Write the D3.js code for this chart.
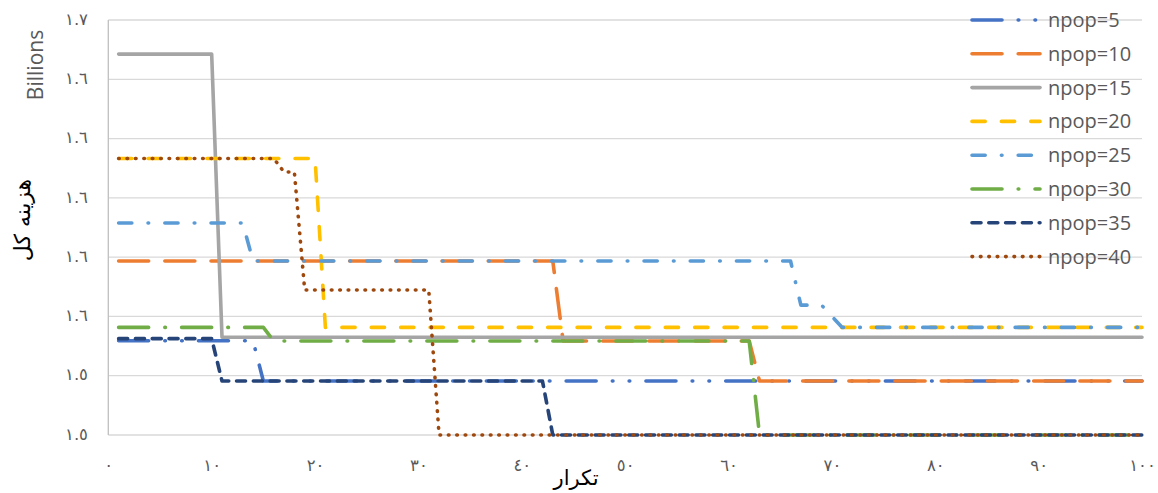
<!DOCTYPE html>
<html>
<head>
<meta charset="utf-8">
<script src="https://cdn.jsdelivr.net/npm/d3@7"></script>
<style>
  html, body { margin: 0; padding: 0; background: #fff; }
  svg { display: block; }
</style>
</head>
<body>
<svg id="chart" width="1158" height="493"></svg>
<script>
// Total cost (billions) per iteration for each population size.
// Each series is listed by the iterations where its value changes.
const seriesNames = ["npop=5", "npop=10", "npop=15", "npop=20", "npop=25", "npop=30", "npop=35", "npop=40"];

const npop5Iter  = [1, 14, 15, 100];
const npop5Cost  = [1.5518, 1.5518, 1.5382, 1.5382];

const npop10Iter = [1, 43, 44, 62, 63, 100];
const npop10Cost = [1.5787, 1.5787, 1.5517, 1.5517, 1.5382, 1.5382];

const npop15Iter = [1, 10, 11, 100];
const npop15Cost = [1.6485, 1.6485, 1.5530, 1.5530];

const npop20Iter = [1, 20, 21, 100];
const npop20Cost = [1.6133, 1.6133, 1.5563, 1.5563];

const npop25Iter = [1, 13, 14, 66, 67, 69, 70, 71, 100];
const npop25Cost = [1.5915, 1.5915, 1.5787, 1.5787, 1.5638, 1.5638, 1.5600, 1.5563, 1.5563];

const npop30Iter = [1, 15, 16, 62, 63, 100];
const npop30Cost = [1.5563, 1.5563, 1.5517, 1.5517, 1.5200, 1.5200];

const npop35Iter = [1, 10, 11, 42, 43, 100];
const npop35Cost = [1.5525, 1.5525, 1.5382, 1.5382, 1.5200, 1.5200];

const npop40Iter = [1, 16, 17, 18, 19, 31, 32, 100];
const npop40Cost = [1.6133, 1.6133, 1.6087, 1.6087, 1.5689, 1.5689, 1.5200, 1.5200];

const seriesIter = [npop5Iter, npop10Iter, npop15Iter, npop20Iter, npop25Iter, npop30Iter, npop35Iter, npop40Iter];
const seriesCost = [npop5Cost, npop10Cost, npop15Cost, npop20Cost, npop25Cost, npop30Cost, npop35Cost, npop40Cost];

const xTicks = [0, 10, 20, 30, 40, 50, 60, 70, 80, 90, 100];
const yTicks = [1.52, 1.54, 1.56, 1.58, 1.60, 1.62, 1.64, 1.66];

const xTitle = "تکرار";
const yTitle = "هزینه کل";
const unitTitle = "Billions";

// Appearance
const colors = ["#4472C4", "#ED7D31", "#A5A5A5", "#FFC000", "#5B9BD5", "#70AD47", "#264478", "#9E480E"];
// Dash patterns in multiples of the dash unit (null = solid)
const dashUnits = [
  [8, 3, 1, 3, 1, 3],  // long dash dot dot
  [8, 3],              // long dash
  null,                // solid
  [4, 3],              // dash
  [4, 3, 1, 3],        // dash dot
  [8, 3, 1, 3],        // long dash dot
  [3, 1],              // square dash
  [1, 1]               // round dot
];
const strokeW = 3.6;
const unit = 4.2;

function dashArray(p) {
  if (!p) return null;
  return p.map((v, i) => i % 2 === 0 ? Math.max(0.01, v * unit - strokeW) : v * unit + strokeW).join(",");
}

const arabicDigits = "٠١٢٣٤٥٦٧٨٩";
const toArabic = s => String(s).replace(/[0-9]/g, d => arabicDigits[+d]);

const svg = d3.select("#chart");
const plotLeft = 108.3, plotRight = 1142, plotTop = 20, plotBottom = 435;

const x = d3.scaleLinear().domain([0, 100]).range([plotLeft, plotRight]);
const y = d3.scaleLinear().domain([1.52, 1.66]).range([plotBottom, plotTop]);

// Gridlines
svg.append("g")
  .selectAll("line")
  .data(yTicks)
  .join("line")
  .attr("x1", plotLeft).attr("x2", plotRight)
  .attr("y1", d => y(d)).attr("y2", d => y(d))
  .attr("stroke", "#d9d9d9").attr("stroke-width", 1.3);

// Vertical axis line
svg.append("line")
  .attr("x1", plotLeft).attr("x2", plotLeft)
  .attr("y1", y(1.66)).attr("y2", y(1.52))
  .attr("stroke", "#bfbfbf").attr("stroke-width", 1.3);

// Y tick labels
const yAxis = d3.axisLeft(y).tickValues(yTicks).tickSize(0).tickPadding(0)
  .tickFormat(d => toArabic(d3.format(".1f")(d)));
const gy = svg.append("g").attr("transform", "translate(88,-1)").call(yAxis);
gy.select(".domain").remove();
gy.selectAll("text")
  .attr("font-family", "DejaVu Sans, sans-serif")
  .attr("font-size", 16.5).attr("fill", "#595959");

// X tick labels
const xAxis = d3.axisBottom(x).tickValues(xTicks).tickSize(0).tickPadding(0)
  .tickFormat(d => toArabic(d));
const gx = svg.append("g").attr("transform", "translate(0,459)").call(xAxis);
gx.select(".domain").remove();
gx.selectAll("text")
  .attr("font-family", "DejaVu Sans, sans-serif")
  .attr("font-size", 16.5).attr("fill", "#595959");

// Series lines
const line = d3.line().x(d => x(d[0])).y(d => y(d[1]));
const lines = svg.append("g");
seriesNames.forEach((name, i) => {
  const pts = seriesIter[i].map((it, k) => [it, seriesCost[i][k]]);
  const p = lines.append("path")
    .datum(pts)
    .attr("d", line)
    .attr("fill", "none")
    .attr("stroke", colors[i])
    .attr("stroke-width", strokeW)
    .attr("stroke-linecap", "round")
    .attr("stroke-linejoin", "round");
  const da = dashArray(dashUnits[i]);
  if (da) p.attr("stroke-dasharray", da);
});

// Axis titles
svg.append("text")
  .attr("x", 576).attr("y", 485)
  .attr("text-anchor", "middle")
  .attr("font-family", "DejaVu Sans, sans-serif")
  .attr("font-size", 21).attr("fill", "#000")
  .text(xTitle);

svg.append("text")
  .attr("transform", "translate(30,220) rotate(-90)")
  .attr("text-anchor", "middle")
  .attr("font-family", "DejaVu Sans, sans-serif")
  .attr("font-size", 22).attr("fill", "#000")
  .text(yTitle);

svg.append("text")
  .attr("transform", "translate(43,65) rotate(-90)")
  .attr("text-anchor", "middle")
  .attr("font-family", "Open Sans, DejaVu Sans, sans-serif")
  .attr("font-size", 21).attr("fill", "#595959")
  .text(unitTitle);

// Legend
const legend = svg.append("g");
seriesNames.forEach((name, i) => {
  const ly = 20 + i * 33.8;
  const l = legend.append("line")
    .attr("x1", 972).attr("x2", 1040)
    .attr("y1", ly).attr("y2", ly)
    .attr("stroke", colors[i])
    .attr("stroke-width", strokeW)
    .attr("stroke-linecap", "round");
  const da = dashArray(dashUnits[i]);
  if (da) l.attr("stroke-dasharray", da);
  legend.append("text")
    .attr("x", 1048).attr("y", ly + 7)
    .attr("font-family", "Open Sans, DejaVu Sans, sans-serif")
    .attr("font-size", 20).attr("fill", "#595959")
    .text(name);
});
</script>
</body>
</html>
